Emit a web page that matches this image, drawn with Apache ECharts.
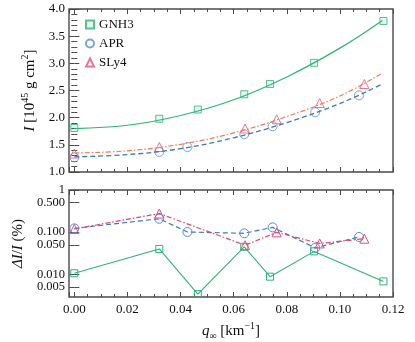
<!DOCTYPE html>
<html>
<head>
<meta charset="utf-8">
<script src="https://cdn.jsdelivr.net/npm/echarts@6/dist/echarts.min.js"></script>
<style>
  html, body { margin: 0; padding: 0; background: #fff; }
  #main { width: 415px; height: 342px; }
</style>
</head>
<body>
<div id="main"></div>
<script>
// equations of state
const eosNames = ['GNH3', 'APR', 'SLy4'];

// q_inf of the computed models [km^-1]
const qGNH3 = [0, 0.032, 0.0465, 0.064, 0.0737, 0.0903, 0.1164];
const qAPR = [0, 0.032, 0.0426, 0.064, 0.0747, 0.0907, 0.1072];
const qSLy4 = [0, 0.032, 0.0643, 0.0762, 0.0924, 0.1092];

// moment of inertia [10^45 g cm^2]
const iGNH3 = [1.81, 1.98, 2.15, 2.43, 2.62, 3.01, 3.78];
const iAPR = [1.27, 1.37, 1.46, 1.695, 1.84, 2.10, 2.41];
const iSLy4 = [1.34, 1.46, 1.80, 1.97, 2.27, 2.62];

// fitted curves
const qFit = [0, 0.02, 0.04, 0.06, 0.08, 0.10, 0.116];
const fitGNH3 = [1.80, 1.86, 2.04, 2.33, 2.75, 3.28, 3.79];
const fitAPR = [1.28, 1.32, 1.43, 1.63, 1.91, 2.26, 2.62];
const fitSLy4 = [1.35, 1.39, 1.51, 1.72, 2.02, 2.40, 2.82];

// relative deviation dI/I [%]
const errGNH3 = [0.0106, 0.040, 0.0034, 0.045, 0.0088, 0.035, 0.0068];
const errAPR = [0.123, 0.208, 0.101, 0.094, 0.130, 0.0425, 0.077];
const errSLy4 = [0.119, 0.277, 0.049, 0.099, 0.054, 0.070];

// log axis tick labels (decades and halves)
const logDecades = [1, 0.1, 0.01];
const logDecadeLabels = ['1', '0.100', '0.010'];
const logHalves = [0.5, 0.05, 0.005];
const logHalfLabels = ['0.500', '0.050', '0.005'];

var chartDom = document.getElementById('main');
var myChart = echarts.init(chartDom);

const font = 'Liberation Serif';
const frame = '#4a4a4a';
const green = '#2fb37a';
const blue = '#5a8fcc';
const blueLine = '#3f78b5';
const pink = '#e8507e';
const orange = '#f27b50';

const zip = (xs, ys) => xs.map((x, i) => [x, ys[i]]);

const rich = {
  it: { fontFamily: font, fontSize: 15, fontStyle: 'italic', color: '#111', lineHeight: 20 },
  n: { fontFamily: font, fontSize: 15, color: '#111', lineHeight: 20 },
  sup: { fontFamily: font, fontSize: 10, color: '#111', verticalAlign: 'top' },
  sub: { fontFamily: font, fontSize: 10, color: '#111', verticalAlign: 'bottom' }
};

const tick = { show: true, inside: true, length: 5, lineStyle: { color: frame } };
const minor = { show: true, length: 3, lineStyle: { color: frame } };
const label = { fontFamily: font, fontSize: 13, color: '#111' };

function xAxisFor(grid, position, showLabel) {
  return {
    type: 'value', gridIndex: grid, position: position,
    min: -0.002, max: 0.12, splitNumber: 6,
    axisLine: { show: false },
    splitLine: { show: false },
    axisTick: tick,
    minorTick: Object.assign({ splitNumber: 4 }, minor),
    axisLabel: showLabel ? Object.assign({
      showMinLabel: false, margin: 6,
      formatter: v => v.toFixed(2)
    }, label) : { show: false }
  };
}

function logAxisFor(position, values, texts, showTicks) {
  return {
    type: 'log', logBase: 10, gridIndex: 1, position: position,
    min: 0.0029, max: 1,
    axisLine: { show: false },
    splitLine: { show: false },
    axisTick: showTicks ? Object.assign({ customValues: logDecades.concat(logHalves) }, tick) : { show: false },
    axisLabel: texts ? Object.assign({
      customValues: values, margin: 4,
      formatter: v => {
        const k = values.findIndex(t => Math.abs(t - v) / t < 1e-6);
        return k >= 0 ? texts[k] : '';
      }
    }, label, { fontSize: 12.5 }) : { show: false }
  };
}

const emptyStyle = (c, a) => ({ color: a || 'rgba(255,255,255,0)', borderColor: c, borderWidth: 1 });

var option = {
  backgroundColor: '#fff',
  animation: false,
  grid: [
    { left: 69, top: 9, right: 22, height: 163, show: true, borderColor: frame, borderWidth: 1.4 },
    { left: 69, top: 190, right: 22, height: 108, show: true, borderColor: frame, borderWidth: 1.4 }
  ],
  legend: {
    orient: 'vertical', left: 80, top: 13,
    itemWidth: 8, itemHeight: 8, itemGap: 6,
    data: eosNames,
    textStyle: { fontFamily: font, fontSize: 13, color: '#111' }
  },
  xAxis: [
    xAxisFor(0, 'bottom', false),
    xAxisFor(0, 'top', false),
    Object.assign(xAxisFor(1, 'bottom', true), {
      name: '{it|q}{sub|∞}{n| [km}{sup|−1}{n|]}',
      nameLocation: 'middle', nameGap: 24,
      nameTextStyle: { rich: rich }
    }),
    xAxisFor(1, 'top', false)
  ],
  yAxis: [
    {
      type: 'value', gridIndex: 0, min: 1, max: 4, interval: 0.5,
      axisLine: { show: false }, splitLine: { show: false },
      axisTick: tick, minorTick: Object.assign({ splitNumber: 5 }, minor),
      axisLabel: Object.assign({ margin: 4, formatter: v => v.toFixed(1) }, label),
      name: '{it|I}{n| [10}{sup|45}{n| g cm}{sup|2}{n|]}',
      nameLocation: 'middle', nameRotate: 90, nameGap: 20,
      nameTextStyle: { rich: rich }
    },
    {
      type: 'value', gridIndex: 0, position: 'right', min: 1, max: 4, interval: 0.5,
      axisLine: { show: false }, splitLine: { show: false },
      axisTick: tick, minorTick: Object.assign({ splitNumber: 5 }, minor),
      axisLabel: { show: false }
    },
    Object.assign(logAxisFor('left', logDecades, logDecadeLabels, true), {
      name: '{it|ΔI}{n|/}{it|I}{n| (%)}',
      nameLocation: 'middle', nameRotate: 90, nameGap: 34,
      nameTextStyle: { rich: rich }
    }),
    logAxisFor('right', null, null, true),
    logAxisFor('left', logHalves, logHalfLabels, false)
  ],
  series: [
    // fitted curves
    { name: 'GNH3 fit', type: 'line', xAxisIndex: 0, yAxisIndex: 0, data: zip(qFit, fitGNH3),
      smooth: 0.4, showSymbol: false, lineStyle: { color: green, width: 1.2 } },
    { name: 'APR fit', type: 'line', xAxisIndex: 0, yAxisIndex: 0, data: zip(qFit, fitAPR),
      smooth: 0.4, showSymbol: false, lineStyle: { color: blueLine, width: 1.3, type: [5, 3] } },
    { name: 'SLy4 fit', type: 'line', xAxisIndex: 0, yAxisIndex: 0, data: zip(qFit, fitSLy4),
      smooth: 0.4, showSymbol: false, lineStyle: { color: orange, width: 1.2, type: [5, 2, 1.5, 2] } },
    // computed models
    { name: 'GNH3', type: 'scatter', xAxisIndex: 0, yAxisIndex: 0, data: zip(qGNH3, iGNH3),
      symbol: 'rect', symbolSize: 7, itemStyle: emptyStyle(green, 'rgba(47,179,122,0.15)') },
    { name: 'APR', type: 'scatter', xAxisIndex: 0, yAxisIndex: 0, data: zip(qAPR, iAPR),
      symbol: 'circle', symbolSize: 9, itemStyle: emptyStyle(blue) },
    { name: 'SLy4', type: 'scatter', xAxisIndex: 0, yAxisIndex: 0, data: zip(qSLy4, iSLy4),
      symbol: 'triangle', symbolSize: 9, itemStyle: emptyStyle(pink) },
    // relative deviations
    { name: 'GNH3 err', type: 'line', xAxisIndex: 2, yAxisIndex: 2, data: zip(qGNH3, errGNH3),
      symbol: 'rect', symbolSize: 7, lineStyle: { color: green, width: 1.1 },
      itemStyle: emptyStyle(green) },
    { name: 'APR err', type: 'line', xAxisIndex: 2, yAxisIndex: 2, data: zip(qAPR, errAPR),
      symbol: 'circle', symbolSize: 9, lineStyle: { color: blueLine, width: 1.2, type: [5, 3] },
      itemStyle: emptyStyle(blue) },
    { name: 'SLy4 err', type: 'line', xAxisIndex: 2, yAxisIndex: 2, data: zip(qSLy4, errSLy4),
      symbol: 'triangle', symbolSize: 9, lineStyle: { color: '#e0457a', width: 1.2, type: [5, 2, 1.5, 2] },
      itemStyle: emptyStyle(pink) }
  ]
};

option && myChart.setOption(option);
</script>
</body>
</html>
